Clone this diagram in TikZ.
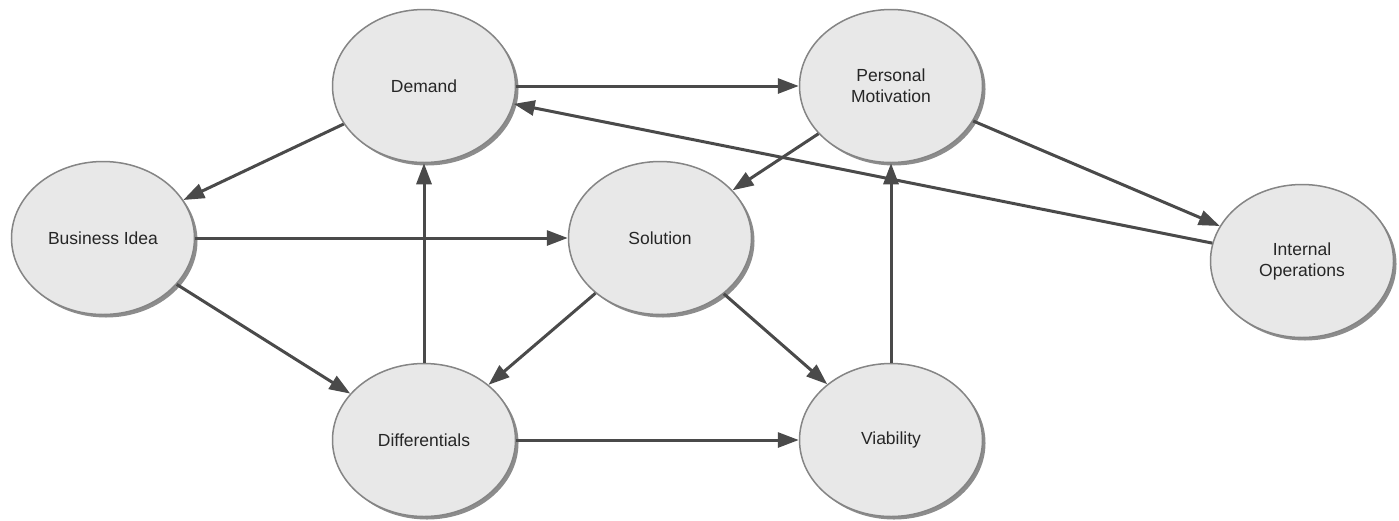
\documentclass[tikz,border=0pt]{standalone}
\usepackage{fontspec}
\setmainfont{Liberation Sans}
\usetikzlibrary{shapes.geometric,arrows.meta,shadows}
\definecolor{bubfill}{HTML}{E8E8E8}
\definecolor{bubedge}{HTML}{858585}
\definecolor{bubshade}{HTML}{8C8C8C}
\definecolor{linkcol}{HTML}{4A4A4A}
\definecolor{labelcol}{HTML}{262626}
\begin{document}
\begin{tikzpicture}[x=1pt,y=-1pt,
  bubble/.style={ellipse, draw=bubedge, line width=1.5pt, fill=bubfill,
    minimum width=183pt, minimum height=153pt, inner sep=0pt, align=center,
    text=labelcol, font=\fontsize{17.5}{21}\selectfont,
    drop shadow={shadow xshift=3pt, shadow yshift=-3pt, fill=bubshade, opacity=1}},
  link/.style={draw=linkcol, line width=3pt,
    -{Triangle[length=21pt,width=15pt]}}
]
\useasboundingbox (0,0) rectangle (1399,520);
\fill[white] (0,0) rectangle (1399,520);

\node[bubble] (demand) at (424,86) {Demand};
\node[bubble] (pm)     at (891,86) {Personal\\Motivation};
\node[bubble] (bi)     at (103,238) {Business Idea};
\node[bubble] (sol)    at (660,238) {Solution};
\node[bubble] (io)     at (1302,261) {Internal\\Operations};
\node[bubble] (diff)   at (424,440) {Differentials};
\node[bubble] (via)    at (891,440) {Viability};

\draw[link] (demand) -- (pm);
\draw[link] (demand) -- (bi);
\draw[link] (bi) -- (sol);
\draw[link] (bi) -- (diff);
\draw[link] (pm) -- (sol);
\draw[link] (pm) -- (io);
\draw[link] (io) -- (demand);
\draw[link] (sol) -- (diff);
\draw[link] (sol) -- (via);
\draw[link] (diff) -- (demand);
\draw[link] (diff) -- (via);
\draw[link] (via) -- (pm);
\end{tikzpicture}
\end{document}
